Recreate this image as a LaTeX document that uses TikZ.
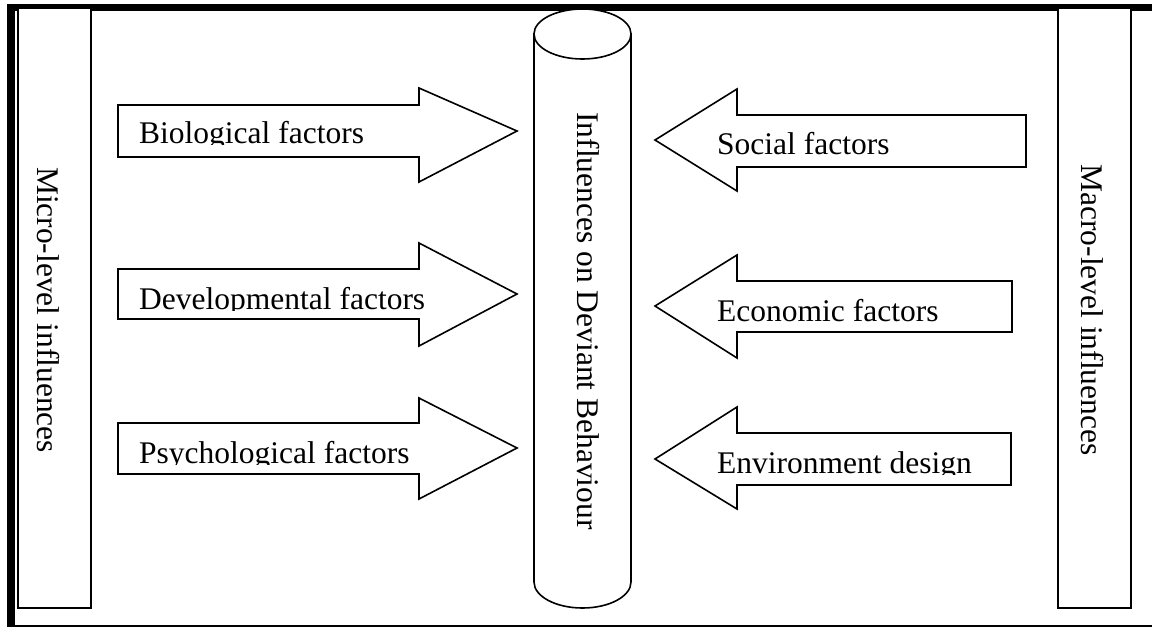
\documentclass[tikz,border=0pt]{standalone}
\usepackage{fontspec}
\setmainfont{Liberation Serif}
\begin{document}
\begin{tikzpicture}[x=1pt,y=-1pt,line join=miter,
  shapeline/.style={draw=black,line width=1.6pt,fill=white},
  sidebox/.style={shapeline,minimum width=73pt,minimum height=600pt,inner sep=0pt},
  lbl/.style={font=\fontsize{31.5}{36}\selectfont,inner sep=0pt,anchor=base west},
  vlbl/.style={font=\fontsize{31.5}{36}\selectfont,inner sep=0pt,rotate=-90}]
\useasboundingbox (0,0) rectangle (1152,627);
% frame
\fill[black] (7,3.5) rectangle (1152,11);
\fill[black] (7,3.5) rectangle (15,627);
\draw[line width=1.2pt] (15,626) -- (1152,626);
% side boxes
\node[sidebox] (micro) at (54.5,308) {};
\node[sidebox] (macro) at (1094.5,308) {};
\node[vlbl] (microtext) at (48,310) {Micro-level influences};
\node[vlbl] (macrotext) at (1092,310) {Macro-level influences};
% cylinder
\filldraw[shapeline] (534,34) -- (534,582) arc[start angle=180,end angle=0,x radius=48.5,y radius=26] -- (631,34) -- cycle;
\filldraw[shapeline] (582.5,34) ellipse[x radius=48.5,y radius=25];
\node[vlbl] (center) at (588,321) {Influences on Deviant Behaviour};
% right-pointing arrows
\filldraw[shapeline] (118,105) -- (419,105) -- (419,88) -- (517,131) -- (419,182) -- (419,157) -- (118,157) -- cycle;
\filldraw[shapeline] (118,269) -- (419,269) -- (419,243) -- (517,294) -- (419,346) -- (419,319) -- (118,319) -- cycle;
\filldraw[shapeline] (118,423) -- (419,423) -- (419,398) -- (517,448) -- (419,499) -- (419,474) -- (118,474) -- cycle;
% left-pointing arrows
\filldraw[shapeline] (655,140) -- (737,89) -- (737,115) -- (1026,115) -- (1026,167) -- (737,167) -- (737,191) -- cycle;
\filldraw[shapeline] (655,306) -- (737,255) -- (737,281) -- (1012,281) -- (1012,332) -- (737,332) -- (737,358) -- cycle;
\filldraw[shapeline] (655,459) -- (737,407) -- (737,433) -- (1011,433) -- (1011,485) -- (737,485) -- (737,509) -- cycle;
% labels (clipped at baseline as in the reference)
\begin{scope}\clip (125,100) rectangle (470,144);
\node[lbl] (bio) at (139,143) {Biological factors};\end{scope}
\begin{scope}\clip (125,260) rectangle (470,310);
\node[lbl] (dev) at (139,309) {Developmental factors};\end{scope}
\begin{scope}\clip (125,415) rectangle (470,464);
\node[lbl] (psy) at (139,463) {Psychological factors};\end{scope}
\begin{scope}\clip (700,110) rectangle (1020,155);
\node[lbl] (soc) at (717,154) {Social factors};\end{scope}
\begin{scope}\clip (700,275) rectangle (1010,322);
\node[lbl] (eco) at (717,321) {Economic factors};\end{scope}
\begin{scope}\clip (700,425) rectangle (1010,474);
\node[lbl] (env) at (717,473) {Environment design};\end{scope}
\end{tikzpicture}
\end{document}
